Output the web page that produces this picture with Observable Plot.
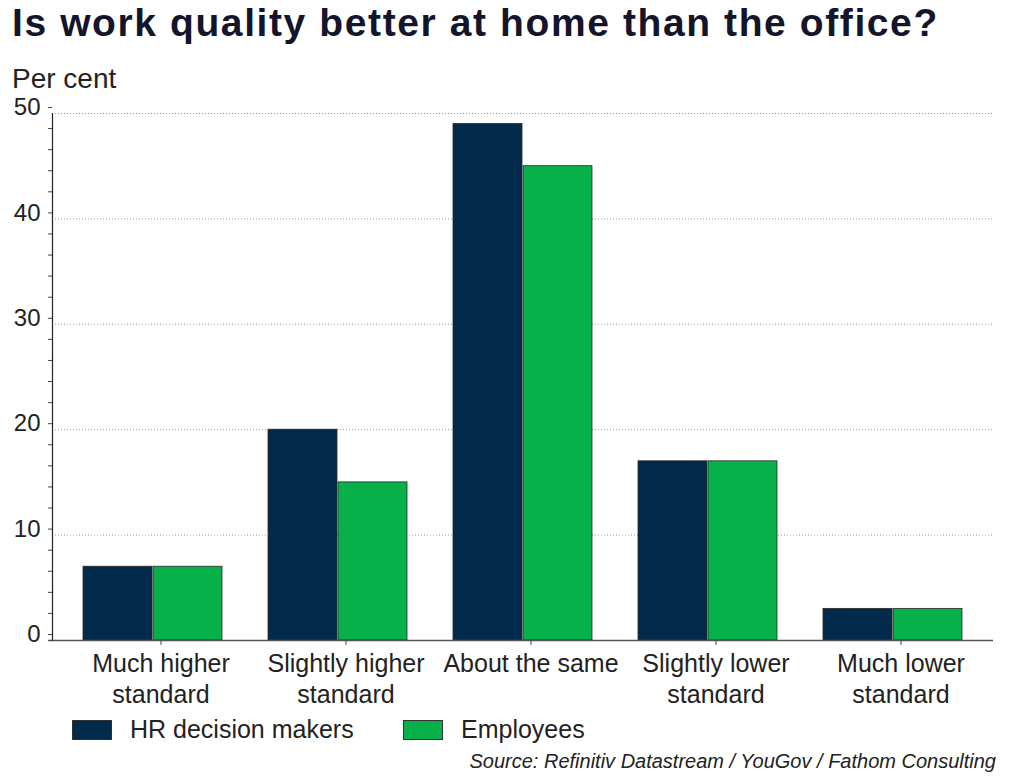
<!DOCTYPE html>
<html>
<head>
<meta charset="utf-8">
<script src="https://cdn.jsdelivr.net/npm/d3@7"></script>
<script src="https://cdn.jsdelivr.net/npm/@observablehq/plot@0.6"></script>
<style>
  html, body { margin: 0; padding: 0; background: #fff; }
  body { width: 1024px; height: 778px; position: relative; overflow: hidden; font-family: "Liberation Sans", Arial, sans-serif; color: #222; }
  #title { position: absolute; left: 12px; top: 1px; font-size: 39px; font-weight: bold; color: #14142a; letter-spacing: 1.6px; white-space: nowrap; }
  #unit { position: absolute; left: 12px; top: 63px; font-size: 28px; color: #222; white-space: nowrap; }
  #chart { position: absolute; left: 0; top: 88px; }
  .leg { position: absolute; top: 715px; font-size: 25px; color: #222; white-space: nowrap; display: flex; align-items: center; }
  .sw { display: inline-block; width: 40px; height: 20px; margin-right: 18px; box-sizing: border-box; border: 1px solid #333; }
  #source { position: absolute; right: 28px; top: 750px; font-size: 20px; font-style: italic; color: #222; white-space: nowrap; }
</style>
</head>
<body>
<div id="title">Is work quality better at home than the office?</div>
<div id="unit">Per cent</div>
<div id="chart"></div>
<div class="leg" style="left:72px"><span class="sw" id="sw0"></span><span id="lg0"></span></div>
<div class="leg" style="left:403px"><span class="sw" id="sw1"></span><span id="lg1"></span></div>
<div id="source">Source: Refinitiv Datastream / YouGov / Fathom Consulting</div>
<script>
const categories = ["Much higher standard", "Slightly higher standard", "About the same", "Slightly lower standard", "Much lower standard"];
const categoryLabels = ["Much higher\nstandard", "Slightly higher\nstandard", "About the same", "Slightly lower\nstandard", "Much lower\nstandard"];
const seriesNames = ["HR decision makers", "Employees"];
const hrValues = [7, 20, 49, 17, 3];
const employeeValues = [7, 15, 45, 17, 3];
const seriesColors = ["#022a4a", "#08b04a"];
const yMajorTicks = [0, 10, 20, 30, 40, 50];
const yMinorTicks = d3.range(0, 51, 2);

const hrData = categories.map((c, i) => ({category: c, series: seriesNames[0], value: hrValues[i]}));
const empData = categories.map((c, i) => ({category: c, series: seriesNames[1], value: employeeValues[i]}));
const labelOf = new Map(categories.map((c, i) => [c, categoryLabels[i]]));

document.getElementById("sw0").style.background = seriesColors[0];
document.getElementById("sw1").style.background = seriesColors[1];
document.getElementById("lg0").textContent = seriesNames[0];
document.getElementById("lg1").textContent = seriesNames[1];

const chart = Plot.plot({
  width: 1024,
  height: 627,
  marginTop: 25,
  marginBottom: 75,
  marginLeft: 52,
  marginRight: 31,
  style: {fontFamily: "'Liberation Sans', Arial, sans-serif", color: "#222", background: "transparent", overflow: "visible"},
  x: {domain: categories, paddingInner: 0, paddingOuter: 0.035},
  y: {domain: [0, 50]},
  color: {domain: seriesNames, range: seriesColors},
  marks: [
    Plot.gridY(yMajorTicks.filter(d => d > 0), {stroke: "#9a9a9a", strokeOpacity: 1, strokeDasharray: "1,2", strokeWidth: 1}),
    Plot.barY(hrData, {x: "category", y: "value", fill: "series", stroke: "#2a2a2a", strokeWidth: 0.8, insetLeft: 23, insetRight: 93}),
    Plot.barY(empData, {x: "category", y: "value", fill: "series", stroke: "#2a2a2a", strokeWidth: 0.8, insetLeft: 93, insetRight: 23}),
    Plot.axisY(yMinorTicks, {tickSize: 4, tickPadding: 8, tickFormat: d => d % 10 === 0 ? String(d) : "", fontSize: 24, dy: -6, stroke: "#444", label: null}),
    Plot.axisX({tickSize: 5, tickPadding: 4, tickFormat: d => labelOf.get(d), fontSize: 25, lineHeight: 1.24, dx: 8, stroke: "#444", label: null}),
    Plot.ruleY([0], {stroke: "#555", strokeWidth: 1.5, insetLeft: -4}),
    Plot.frame({anchor: "left", stroke: "#222", strokeWidth: 1.2})
  ]
});
document.getElementById("chart").appendChild(chart);
</script>
</body>
</html>
